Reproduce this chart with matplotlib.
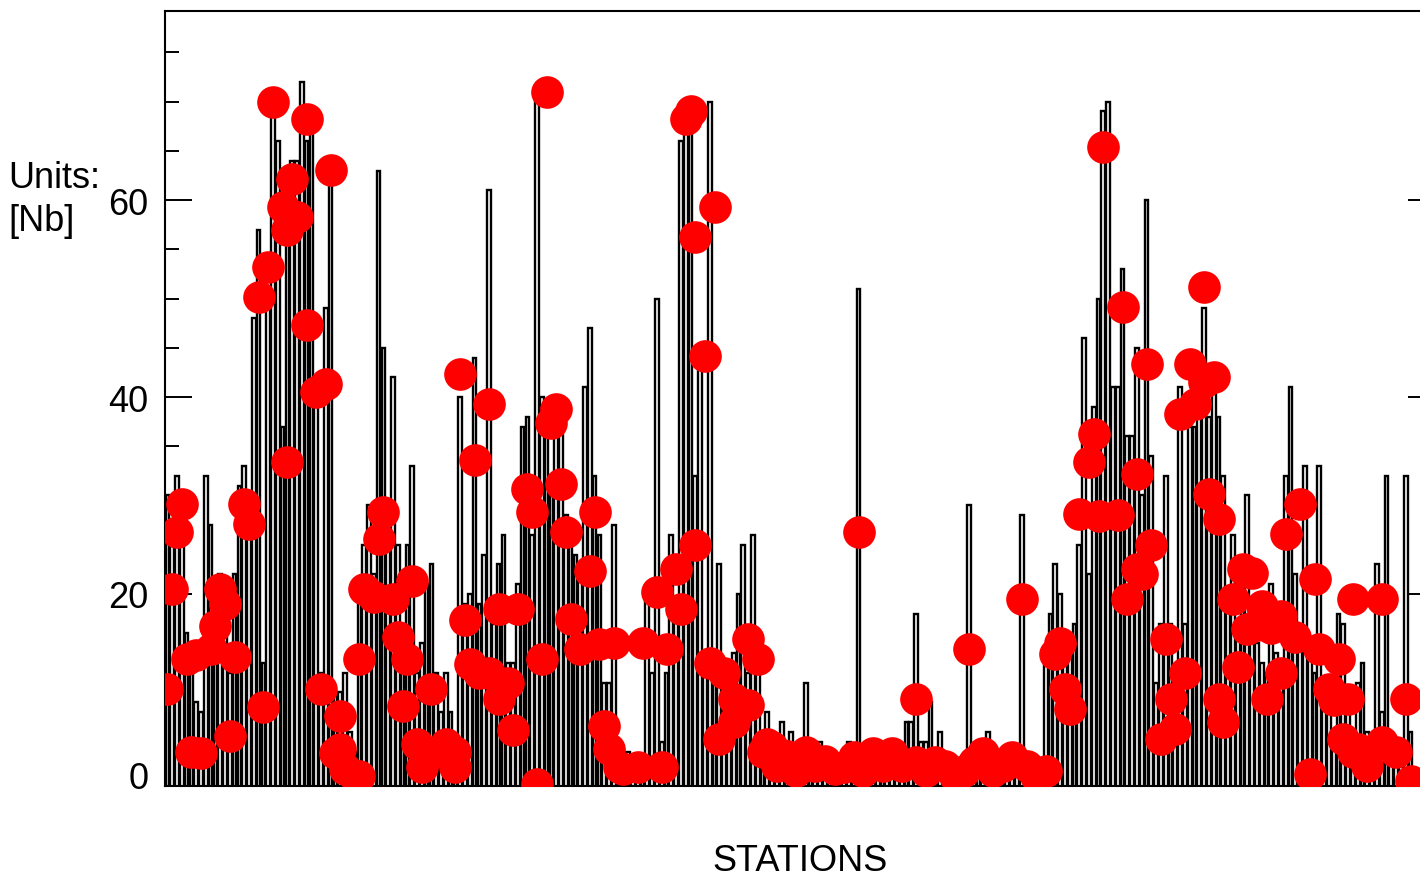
import matplotlib
matplotlib.use("Agg")
import matplotlib.pyplot as plt
from matplotlib.ticker import MultipleLocator

plt.rcParams['font.family'] = ['Liberation Sans', 'DejaVu Sans']

# Bar value for each station, left to right
station_values = [
    30, 27, 32, 25, 16, 14, 9, 8, 32, 27,
    19, 22, 20, 12, 22, 31, 33, 29, 48, 57,
    13, 51, 70, 66, 37, 56, 64, 64, 72, 66,
    68, 40, 12, 49, 63, 10, 10, 12, 6, 4,
    20, 25, 29,
    22, 63, 45, 26, 42, 25, 17, 25, 33, 12,
    15, 21, 23, 12, 8, 12, 8, 5, 40, 19,
    20, 44, 19, 24, 61, 17, 23, 26, 13, 13,
    21, 37, 38, 26, 71, 40, 36, 31, 37, 37,
    28, 26, 24, 22,
    41, 47, 32, 26, 11, 11, 27, 2, 2, 4,
    3, 3, 3, 20, 12, 50, 5, 12, 26, 19,
    66, 68, 70, 32, 44, 14, 70, 14, 23, 12,
    12, 14, 20, 25, 12, 26, 12, 6, 8, 4,
    3, 7, 5,
    6, 2, 3, 11, 3, 2, 5, 2, 2, 4,
    3, 4, 5, 3, 51, 3, 2, 5, 3, 5,
    5, 5, 5, 3, 7, 7, 18, 5, 5, 9,
    3, 6, 2, 2, 1, 2, 2, 29, 2, 2,
    3, 6, 2, 3,
    2, 3, 2, 3, 28, 2, 3, 2, 3, 14,
    18, 23, 20, 15, 16, 17, 25, 46, 22, 39,
    50, 69, 70, 41, 41, 53, 36, 36, 45, 30,
    60, 34, 11, 17, 32, 17, 12, 41, 17, 37,
    37, 41, 49, 38,
    41, 38, 32, 20, 26, 17, 19, 30, 16, 15,
    13, 12, 21, 14, 12, 32, 41, 22, 15, 33,
    14, 12, 33, 10, 8, 6, 18, 17, 9, 5,
    11, 13, 6, 4, 23, 8, 32, 4, 5, 3,
    32, 6,
]

# Red points: station index and value
dot_station = [
    0, 1, 2, 3, 4, 6, 5, 7, 9, 10, 11, 12, 13, 14, 16, 17, 19, 20, 21, 22,
    24, 25, 25, 26, 27, 29, 29, 31, 33, 34, 32, 36, 36, 37, 35, 39, 40,
    40, 41, 43, 44, 45,
    47, 48, 49, 50, 51, 52, 53, 55, 55, 58, 60, 60, 62, 61, 63, 64, 65,
    67, 67, 69, 69, 71, 72, 73, 75, 76, 77, 78, 79, 80, 81, 82, 83, 84, 86,
    88, 89, 90, 91, 92, 93, 94, 95, 98, 99, 102, 103, 104, 106, 107, 108,
    109, 110, 110, 112, 113, 114, 115, 116, 118, 118, 121, 121, 123, 124,
    126, 128,
    125, 127, 129, 131, 133, 135, 137, 139, 141, 143, 144, 145, 147, 149,
    151, 153, 156, 156, 158, 160, 162, 164, 166, 167, 168, 170, 172, 174,
    176, 178, 179, 181, 183,
    185, 186, 187, 188, 190, 192, 193, 194, 195, 198, 199, 200, 202, 202,
    204, 205, 203, 207, 208, 209, 210, 211, 212, 213, 214, 216, 216, 217,
    218, 219,
    219, 220, 222, 223, 224, 225, 226, 227, 228, 229, 230, 232, 232, 233,
    235, 236, 238, 239, 240, 242, 243, 244, 245, 246, 247, 247, 248, 250,
    253, 253, 256, 258, 259,
]
dot_value = [
    10.3, 20.5, 26.3, 29.1, 13.4, 13.8, 4.0, 3.9, 14.4, 16.7, 20.5, 19.0,
    5.6, 13.6, 29.1, 27.1, 50.2, 8.5, 53.2, 70.0,
    59.3, 57.0, 33.4, 62.1, 58.3, 68.2, 47.3, 40.5, 41.3, 63.1, 10.4, 7.6,
    4.3, 2.2, 3.9, 1.5, 1.5,
    13.4, 20.5, 19.7, 25.6, 28.3,
    19.5, 15.6, 8.6, 13.4, 21.3, 4.8, 2.4, 10.4, 3.9, 4.8, 2.4, 4.0, 17.4,
    42.3, 12.9, 33.6, 12.0,
    39.3, 12.0, 9.3, 18.5, 11.0, 6.2, 18.5, 30.7, 28.3, 0.7, 13.4, 71.0,
    37.4, 38.8, 31.2, 26.3, 17.5, 14.4,
    22.3, 28.3, 14.9, 6.6, 4.3, 15.0, 2.4, 2.2, 2.4, 15.0, 20.2, 2.4, 14.4,
    22.5, 18.5, 68.2,
    69.0, 56.3, 25.0, 44.2, 13.0, 59.3, 5.3, 12.0, 9.3, 7.0, 15.4, 8.7,
    13.4, 4.0, 4.5, 3.0,
    4.8, 2.5, 3.5, 2.0, 4.0, 2.5, 3.0, 2.2, 2.4, 3.4, 26.3, 2.0, 3.9, 2.5,
    3.9, 2.5, 9.3, 2.9, 2.0, 2.9, 2.5, 1.5, 2.0, 14.4, 2.9, 3.9, 2.0, 2.5,
    3.4, 19.5, 2.5, 1.5, 2.0,
    13.9, 15.0, 10.4, 8.3, 28.1, 33.4, 36.2, 27.9, 65.4, 28.0, 49.1, 19.5,
    32.2, 22.5, 43.4, 25.0, 22.0, 5.3, 15.4, 9.3, 6.3, 38.3, 12.0, 43.4,
    39.3, 51.2, 41.5, 30.2,
    42.0, 27.6,
    9.3, 7.0, 19.5, 12.6, 22.5, 16.4, 22.1, 16.8, 18.8, 9.3, 16.5, 17.8,
    12.0, 26.1, 15.6, 29.1, 1.7, 21.5, 14.4, 10.4, 9.2, 13.4, 5.3, 9.3,
    19.5, 4.0, 4.3, 2.5, 19.5, 5.0, 4.0, 9.3, 1.0,
]

stations = list(range(len(station_values)))

fig = plt.figure(figsize=(14.2, 8.79), dpi=100)
ax = fig.add_axes([165 / 1420, 92 / 879, 1270 / 1420, 775 / 879])

ax.bar(stations, station_values, width=0.78, color='white',
       edgecolor='black', linewidth=1.7, zorder=2)
ax.plot(dot_station, dot_value, 'o', color='#ff0000', ms=23.5,
        markeredgewidth=0, zorder=3)

ax.set_xlim(-0.5, 264.1)
ax.set_ylim(0.5, 79.2)

ax.set_xticks([])
ax.yaxis.set_major_locator(MultipleLocator(20))
ax.yaxis.set_minor_locator(MultipleLocator(5))
ax.tick_params(axis='y', which='major', direction='in', length=19.5,
               width=1.4, left=True, right=True, labelsize=26, pad=12)
ax.tick_params(axis='y', which='minor', direction='in', length=10,
               width=1.4, left=True, right=True)
for s in ax.spines.values():
    s.set_linewidth(1.5)

# zero label sits at the bottom edge of the plot
ax.annotate('0', xy=(0, 0), xycoords='axes fraction', xytext=(-16, -2),
            textcoords='offset pixels', ha='right', va='baseline',
            fontsize=26)

ax.set_xlabel('STATIONS', fontsize=26, labelpad=41)
fig.text(8 / 1420, 1 - 200 / 879, 'Units:\n[Nb]', ha='left', va='center',
         fontsize=26, linespacing=1.3)

fig.savefig('out.png', dpi=100)
